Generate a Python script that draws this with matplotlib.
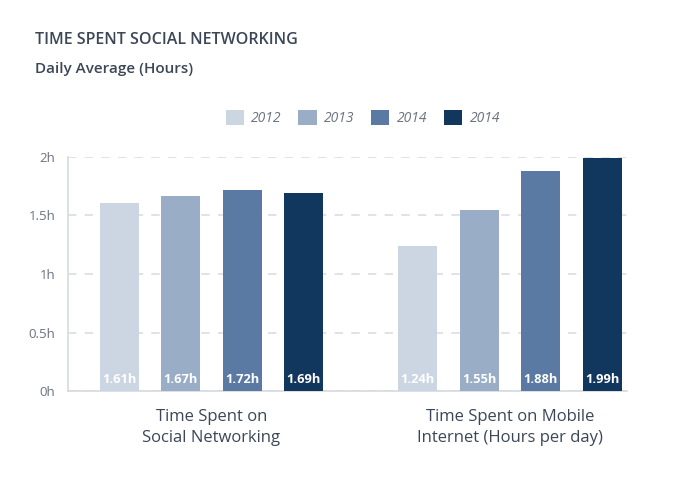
import matplotlib
matplotlib.use("Agg")
import matplotlib.pyplot as plt
from matplotlib.patches import Patch
import numpy as np

categories = ["Time Spent on\nSocial Networking", "Time Spent on Mobile\nInternet (Hours per day)"]
series_names = ["2012", "2013", "2014", "2014"]
values_2012 = [1.61, 1.24]
values_2013 = [1.67, 1.55]
values_2014a = [1.72, 1.88]
values_2014b = [1.69, 1.99]
yticks = [0, 0.5, 1, 1.5, 2]
ytick_labels = ["0h", "0.5h", "1h", "1.5h", "2h"]

series = [values_2012, values_2013, values_2014a, values_2014b]
colors = ["#CCD6E2", "#99ADC6", "#5B7AA3", "#12375F"]
text_dark = "#3B4757"
grey = "#6B7280"

plt.rcParams['font.family'] = ['Open Sans', 'DejaVu Sans']

fig = plt.figure(figsize=(7.0, 4.78), dpi=100)
ax = fig.add_axes([68/700, 1-391/478, (627-68)/700, (391-157)/478])

x = np.arange(len(categories))
offset = 0.206
width = 0.131
for i, (vals, c) in enumerate(zip(series, colors)):
    pos = x + (i - 1.5) * offset
    ax.bar(pos, vals, width=width, color=c, zorder=3)
    for p, v in zip(pos, vals):
        ax.text(p, 0.045, f"{v:.2f}h", ha="center", va="bottom", color="white",
                fontsize=9.3, fontweight="bold", zorder=4)

ax.set_xlim(-0.481, 1.392)
ax.set_ylim(0, 2)
ax.set_yticks(yticks)
ax.set_yticklabels(ytick_labels, color=grey, fontsize=9.5)
ax.tick_params(axis="y", length=0, pad=9)
ax.set_xticks([])
ax.yaxis.grid(True, color="#DADDE2", linestyle=(0, (5, 5)), linewidth=1.2, zorder=0)
for s in ["top", "right"]:
    ax.spines[s].set_visible(False)
ax.spines["left"].set_color("#D6D9DE")
ax.spines["bottom"].set_color("#D6D9DE")
ax.spines["left"].set_linewidth(1.2)
ax.spines["bottom"].set_linewidth(1.2)

for xi, cat in zip(x, categories):
    ax.text(xi, -0.15, cat, ha="center", va="top", color=text_dark, fontsize=12,
            fontweight="medium", linespacing=1.45, transform=ax.transData)

fig.text(35/700, 1-40/478, "TIME SPENT SOCIAL NETWORKING", ha="left", va="center",
         color=text_dark, fontsize=11.5, fontweight="semibold")
fig.text(35/700, 1-69/478, "Daily Average (Hours)", ha="left", va="center",
         color=text_dark, fontsize=11, fontweight="semibold")

handles = [Patch(facecolor=c, edgecolor="none") for c in colors]
leg = fig.legend(handles, series_names, loc="center", bbox_to_anchor=(363/700, 1-118/478),
                 ncol=4, frameon=False, handlelength=1.3, handleheight=1.3,
                 columnspacing=1.2, handletextpad=0.55,
                 prop={"style": "italic", "size": 10})
for t in leg.get_texts():
    t.set_color(grey)

fig.savefig("out.png", dpi=100, facecolor="white")
